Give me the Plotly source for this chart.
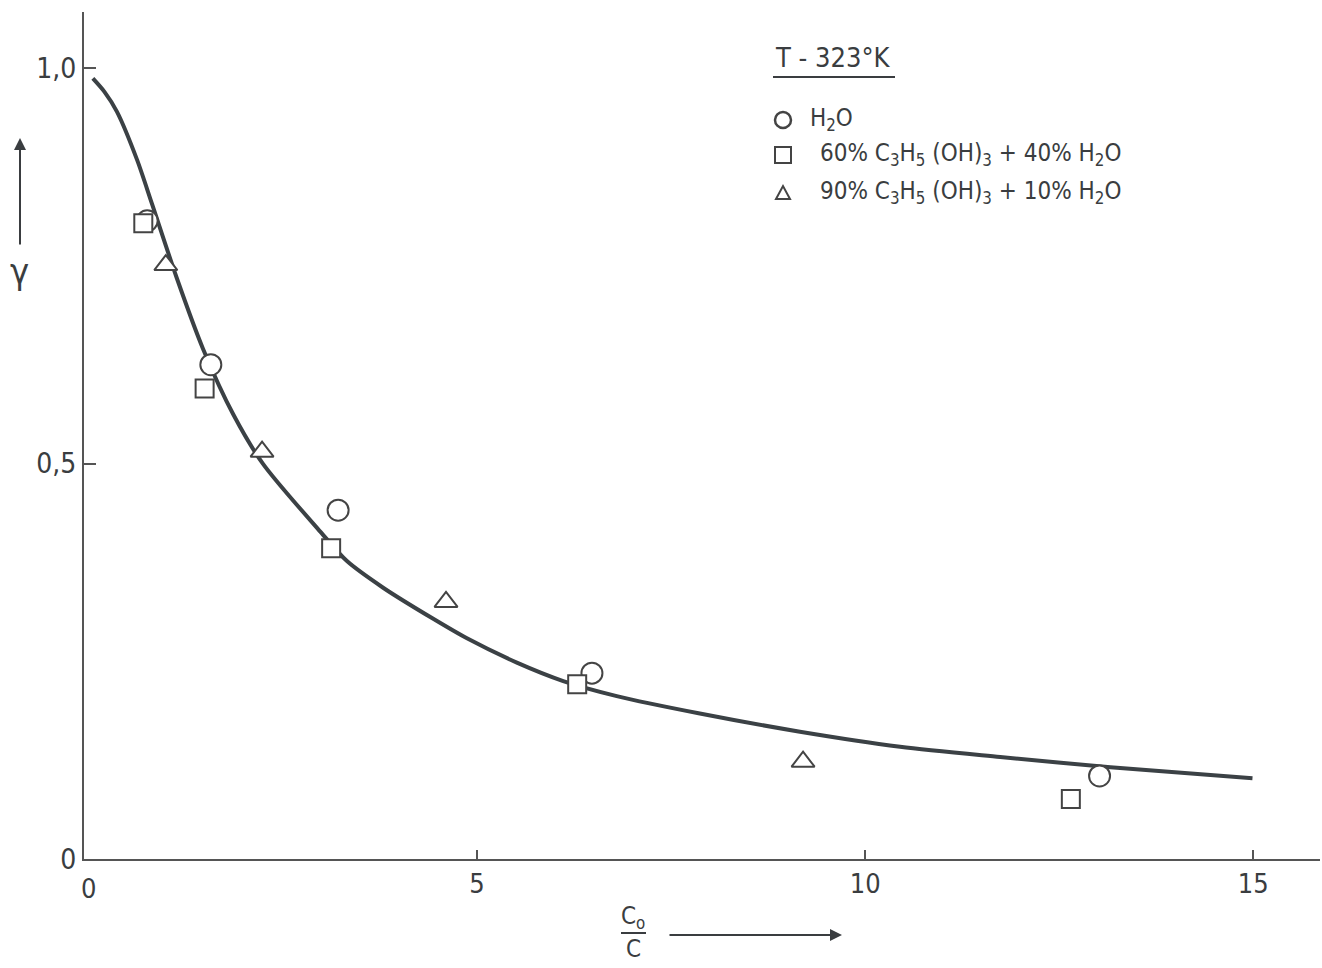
import plotly.graph_objects as go

# Data
h2o_x = [0.75, 1.57, 3.21, 6.48, 13.02]
h2o_y = [0.807, 0.625, 0.441, 0.235, 0.105]

g60_x = [0.70, 1.49, 3.12, 6.29, 12.65]
g60_y = [0.804, 0.595, 0.393, 0.221, 0.076]

g90_x = [0.99, 2.23, 4.60, 9.20]
g90_y = [0.751, 0.515, 0.325, 0.123]

curve_x = [0.05, 0.20, 0.36, 0.62, 0.81, 1.13, 1.47, 1.86, 2.24, 2.98, 3.32, 3.79, 4.43,
           4.87, 5.52, 6.11, 6.80, 7.87, 9.16, 10.45, 11.74, 13.16, 14.99]
curve_y = [0.987, 0.970, 0.945, 0.884, 0.829, 0.735, 0.645, 0.562, 0.500, 0.414, 0.377, 0.343, 0.304,
           0.279, 0.248, 0.225, 0.206, 0.184, 0.161, 0.142, 0.129, 0.116, 0.102]

x_ticks = [5, 10, 15]
x_ticklabels = ["5", "10", "15"]
y_ticks = [0, 0.5, 1.0]
y_ticklabels = ["0", "0,5", "1,0"]

legend_title = "T - 323°K"
legend_labels = [
    "H<sub>2</sub>O",
    "60% C<sub>3</sub>H<sub>5</sub> (OH)<sub>3</sub> + 40% H<sub>2</sub>O",
    "90% C<sub>3</sub>H<sub>5</sub> (OH)<sub>3</sub> + 10% H<sub>2</sub>O",
]

FONT = "DejaVu Sans Condensed, Liberation Sans Narrow, sans-serif"
INK = "#3a3d40"
MK = "#444"

# pixel -> paper helpers (plot area: left 84, top 12, width 1236, height 847)
L, T, W, H = 84, 12, 1236, 847
def px(x):
    return (x - L) / W
def py(y):
    return (T + H - y) / H

fig = go.Figure()
fig.add_trace(go.Scatter(x=curve_x, y=curve_y, mode="lines",
                         line=dict(color="#3b4145", width=4, shape="spline", smoothing=0.8),
                         showlegend=False, hoverinfo="skip"))

mk = dict(color="white", line=dict(color=MK, width=2))
fig.add_trace(go.Scatter(x=h2o_x, y=h2o_y, mode="markers", name="H2O",
                         marker=dict(symbol="circle", size=21, **mk)))
fig.add_trace(go.Scatter(x=g60_x, y=g60_y, mode="markers", name="60%",
                         marker=dict(symbol="square", size=18, **mk)))
fig.add_trace(go.Scatter(x=g90_x, y=g90_y, mode="markers", name="90%",
                         marker=dict(symbol="triangle-up", size=20, **mk)))

fig.update_layout(
    width=1322, height=968,
    margin=dict(l=84, r=2, t=12, b=109),
    paper_bgcolor="white", plot_bgcolor="white",
    font=dict(family=FONT, color=INK, size=26),
    showlegend=False,
    xaxis=dict(range=[-0.064, 15.86], showgrid=False, zeroline=False,
               showline=True, linecolor="#555", linewidth=2,
               tickmode="array", tickvals=x_ticks, ticktext=x_ticklabels,
               ticks="inside", ticklen=9, tickwidth=2, tickcolor="#555",
               tickfont=dict(size=27, family=FONT, color=INK)),
    yaxis=dict(range=[0, 1.071], showgrid=False, zeroline=False,
               showline=True, linecolor="#555", linewidth=2,
               tickmode="array", tickvals=y_ticks, ticktext=y_ticklabels,
               ticks="inside", ticklen=12, tickwidth=2, tickcolor="#555",
               tickfont=dict(size=28, family=FONT, color=INK)),
)

# x=0 label at the axis corner
fig.add_annotation(x=0, y=0, xref="x", yref="y", text="0", showarrow=False,
                   xanchor="center", yanchor="top", yshift=-12,
                   font=dict(size=27, family=FONT, color=INK))

# ---- legend (manual) ----
fig.add_annotation(x=px(833), y=py(58), xref="paper", yref="paper", text=legend_title,
                   showarrow=False, xanchor="center", yanchor="middle",
                   font=dict(size=27, family=FONT, color=INK))
fig.add_shape(type="line", xref="paper", yref="paper",
              x0=px(773), x1=px(895), y0=py(77), y1=py(77),
              line=dict(color=INK, width=2))

sym_x = 783
rows_y = [120, 155, 193]
text_x = [808, 818, 818]
# circle
fig.add_shape(type="circle", xref="paper", yref="paper", xsizemode="pixel", ysizemode="pixel",
              xanchor=px(sym_x), yanchor=py(rows_y[0]), x0=-8, x1=8, y0=-8, y1=8,
              line=dict(color=MK, width=2.5), fillcolor="white")
# square
fig.add_shape(type="rect", xref="paper", yref="paper", xsizemode="pixel", ysizemode="pixel",
              xanchor=px(sym_x), yanchor=py(rows_y[1]), x0=-8, x1=8, y0=-8, y1=8,
              line=dict(color=MK, width=2), fillcolor="white")
# triangle
fig.add_shape(type="path", xref="paper", yref="paper", xsizemode="pixel", ysizemode="pixel",
              xanchor=px(sym_x), yanchor=py(rows_y[2]),
              path="M -7,-6 L 7,-6 L 0,7 Z",
              line=dict(color=MK, width=2), fillcolor="white")
for lbl, ty, tx in zip(legend_labels, rows_y, text_x):
    fig.add_annotation(x=px(tx), y=py(ty), xref="paper", yref="paper", text=lbl,
                       showarrow=False, xanchor="left", yanchor="middle",
                       font=dict(size=24, family=FONT, color=INK))

# ---- y axis title with arrow ----
fig.add_annotation(x=px(19), y=py(272), xref="paper", yref="paper",
                   text="γ", showarrow=False, xanchor="center", yanchor="middle",
                   font=dict(size=36, family=FONT, color=INK))
fig.add_annotation(x=px(20), y=py(138), xref="paper", yref="paper",
                   text="", showarrow=True, ax=0, ay=108, arrowhead=2, arrowsize=1.2,
                   arrowwidth=2, arrowcolor=INK)

# ---- x axis title (fraction) with arrow ----
fig.add_annotation(x=px(633), y=py(917), xref="paper", yref="paper",
                   text="C<sub>o</sub>", showarrow=False, xanchor="center", yanchor="middle",
                   font=dict(size=24, family=FONT, color=INK))
fig.add_annotation(x=px(633), y=py(949), xref="paper", yref="paper",
                   text="C", showarrow=False, xanchor="center", yanchor="middle",
                   font=dict(size=24, family=FONT, color=INK))
fig.add_shape(type="line", xref="paper", yref="paper",
              x0=px(621), x1=px(646), y0=py(933), y1=py(933),
              line=dict(color=INK, width=2))
fig.add_annotation(x=px(842), y=py(935), xref="paper", yref="paper",
                   text="", showarrow=True, ax=-174, ay=0, arrowhead=2, arrowsize=1.2,
                   arrowwidth=2, arrowcolor=INK)

fig.write_html("out.html")
